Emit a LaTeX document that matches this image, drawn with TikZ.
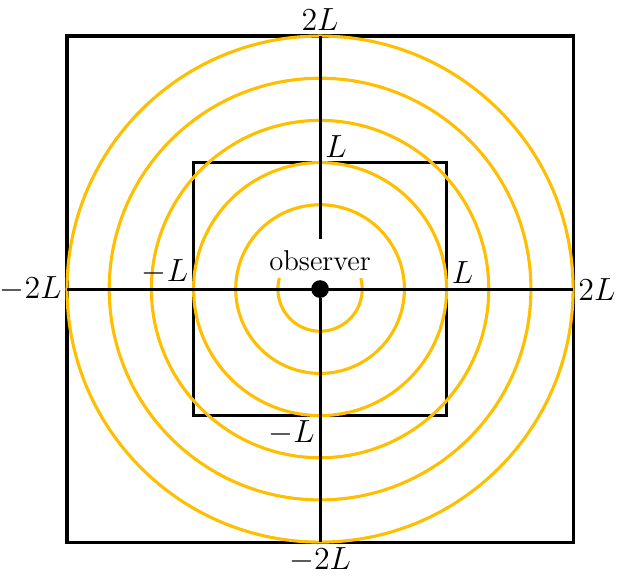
\documentclass[tikz,border=0pt]{standalone}
\usepackage{amsmath}
\usepackage{tikz}
\usetikzlibrary{positioning}

\definecolor{ringyellow}{RGB}{255,190,0}

\begin{document}
\begin{tikzpicture}[
  frame/.style={draw, line width=1.4pt},
  axis/.style={draw, line width=1.4pt},
  ring/.style={draw=ringyellow, line width=1.4pt},
  lbl/.style={font=\fontsize{14}{16}\selectfont, inner sep=0.22em},
  obsbox/.style={font=\fontsize{12.9}{15}\selectfont, inner xsep=0.3em, inner ysep=0.48em},
  every node/.style={font=\fontsize{12.9}{15}\selectfont}
]
  \useasboundingbox (-5.06,-4.62) rectangle (4.71,4.57);

  % Squares
  \draw[frame] (-4,-4) rectangle (4,4);
  \draw[frame] (-2,-2) rectangle (2,2);

  % Rings
  \foreach \k in {2,...,6}
    \draw[ring] (0,0) circle ({\k*2/3});
  \draw[ring] (165:2/3) arc (165:375:2/3);

  % Axes
  \coordinate (top) at (0,4);
  \coordinate (bot) at (0,-4);
  \coordinate (lft) at (-4,0);
  \coordinate (rgt) at (4,0);
  \node[circle, fill, inner sep=0pt, minimum size=0.28cm] (obsdot) at (0,0) {};
  \node[above=-0.03cm of obsdot, obsbox] (obs) {observer};
  \draw[axis] (lft) -- (rgt);
  \draw[axis] (obsdot) -- (bot);
  \draw[axis] (top) -- (obs);

  % Tick labels
  \node[lbl, above=0pt of top] (ltop) {$2L$};
  \node[lbl, below=0pt of bot] (lbot) {$-2L$};
  \node[lbl, left=0pt of lft] (llft) {$-2L$};
  \node[lbl, right=0pt of rgt] (lrgt) {$2L$};
  \node[lbl, above right=0pt of {(0,2)}] (lup) {$L$};
  \node[lbl, below left=0pt of {(0,-2)}] (ldown) {$-L$};
  \node[lbl, above left=0pt of {(-2,0)}] (lleft) {$-L$};
  \node[lbl, above right=0pt of {(2,0)}] (lright) {$L$};
\end{tikzpicture}
\end{document}
